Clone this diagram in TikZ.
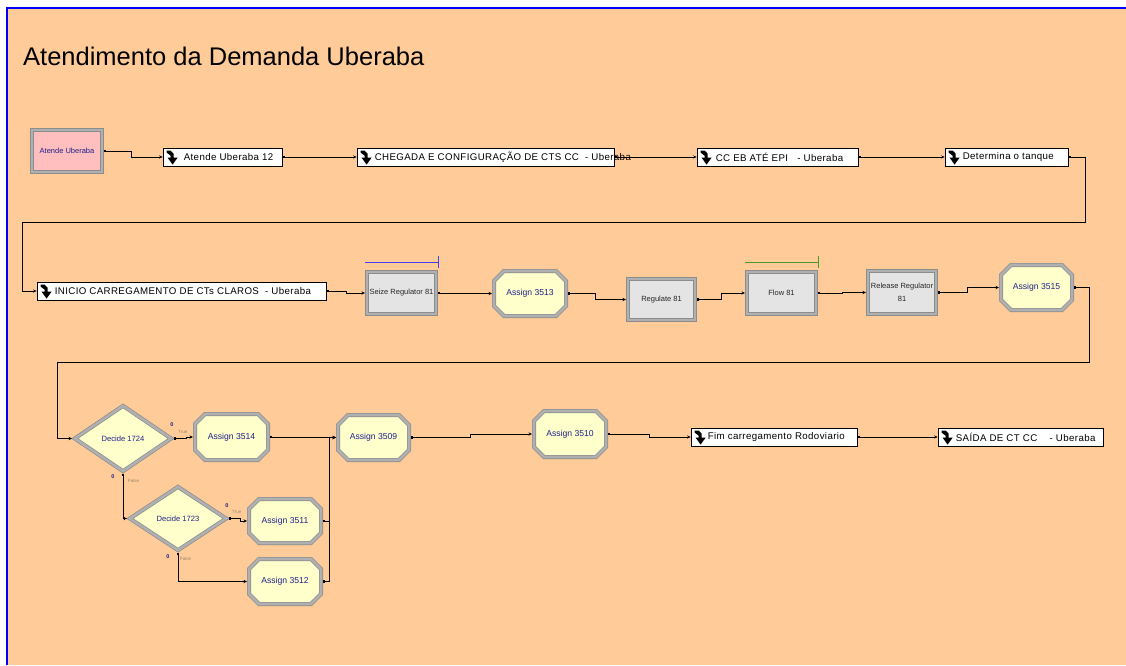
\documentclass[tikz,border=0pt]{standalone}
\usepackage{fontspec}
\setmainfont{Liberation Sans}
\newfontfamily\lblfont[LetterSpace=4]{Liberation Sans}
\usetikzlibrary{shapes.geometric,shapes.misc,arrows.meta,calc}
\definecolor{peach}{HTML}{FFCC99}
\definecolor{frameblue}{HTML}{0000FF}
\definecolor{modyellow}{HTML}{FFFFCC}
\definecolor{procgray}{HTML}{E4E4E4}
\definecolor{createpink}{HTML}{FFBFBF}
\definecolor{bevdark}{HTML}{8C8C8C}
\definecolor{bevlight}{HTML}{B0B0B0}
\definecolor{navytext}{HTML}{1F1F8A}
\definecolor{tftext}{HTML}{9A8468}
\definecolor{seizeblue}{HTML}{4040F0}
\definecolor{flowgreen}{HTML}{4C9A2A}

% bent-down arrow drawn at the left end of a station box
\newcommand\stnicon[1]{%
  \fill ($(#1.north west)+(4,3)$) -- ++(4,0) -- ++(3,3) -- ++(0,4) -- ++(4,0)
    -- ++(-5,7) -- ++(-5,-7) -- ++(3,0) -- ++(0,-2) -- ++(-4,-3) -- cycle;}

\begin{document}
\begin{tikzpicture}[x=1pt,y=-1pt,
  bevel/.style={draw=bevdark, double=bevlight, double distance=2.6pt,
    line width=0.7pt, outer sep=2pt},
  module/.style={bevel, fill=modyellow, chamfered rectangle,
    chamfered rectangle xsep=6pt, chamfered rectangle ysep=6pt,
    inner sep=0pt, text=navytext, font=\fontsize{8.6}{10}\selectfont},
  process/.style={bevel, fill=procgray, rectangle, inner sep=0pt,
    text=black!85, align=center, font=\fontsize{7.5}{12.5}\selectfont},
  decide/.style={bevel, fill=modyellow, diamond, inner sep=0pt,
    text=navytext, font=\fontsize{7.6}{9}\selectfont},
  station/.style={draw=black, line width=0.8pt, fill=white, rectangle,
    inner sep=0pt, minimum height=18pt},
  stntext/.style={anchor=west, inner sep=0pt,
    font=\lblfont\fontsize{9.7}{11}\selectfont},
  zero/.style={inner sep=0pt, text=navytext, font=\bfseries\fontsize{5.5}{6}\selectfont},
  tf/.style={anchor=west, inner sep=0pt, text=tftext, font=\fontsize{4.5}{5}\selectfont},
  conn/.style={line width=0.9pt, {Square[length=2pt,width=2.5pt]}-{Stealth[length=3.5pt,width=3.2pt]}}
]
\useasboundingbox (0,0) rectangle (1126,665);
\fill[white] (0,0) rectangle (1126,665);
\fill[peach] (7,8) rectangle (1126,665);
\draw[frameblue, line width=2pt] (7,665) -- (7,8) -- (1126,8);

\node[anchor=base west, inner sep=0pt, font=\fontsize{25.5}{30}\selectfont] (title) at (23,65) {Atendimento da Demanda Uberaba};

% first row
\node[process, fill=createpink, text=navytext, minimum width=70pt, minimum height=42pt] (create) at (67,151) {Atende Uberaba};
\node[station, minimum width=119pt] (s1) at (222.5,157) {};
\node[station, minimum width=257pt] (s2) at (485.5,157) {};
\node[station, minimum width=161pt] (s3) at (777.5,157) {};
\node[station, minimum width=123pt] (s4) at (1006.5,157) {};

% second row
\node[station, minimum width=289pt] (s5) at (181.5,291) {};
\node[process, minimum width=69pt, minimum height=42pt] (seize) at (401.5,293) {Seize Regulator 81};
\node[module, minimum width=72pt, minimum height=45pt] (as3513) at (530,293.5) {Assign 3513};
\node[process, minimum width=67pt, minimum height=41pt] (regulate) at (661.5,299.5) {Regulate 81};
\node[process, minimum width=69pt, minimum height=42pt] (flow) at (781.5,293) {Flow 81};
\node[process, minimum width=68pt, minimum height=43pt] (release) at (902,292.5) {Release Regulator\\81};
\node[module, minimum width=71pt, minimum height=45pt] (as3515) at (1036.5,287.5) {Assign 3515};

% third row
\node[decide, minimum width=98pt, minimum height=67pt] (dec1724) at (123,438.5) {Decide 1724};
\node[module, minimum width=73pt, minimum height=46pt] (as3514) at (231.5,437) {Assign 3514};
\node[module, minimum width=71pt, minimum height=45pt] (as3509) at (373.5,437.5) {Assign 3509};
\node[module, minimum width=72pt, minimum height=46pt] (as3510) at (570,434) {Assign 3510};
\node[station, minimum width=166pt] (s6) at (774,437) {};
\node[station, minimum width=165pt] (s7) at (1020.5,437) {};
\node[decide, minimum width=98pt, minimum height=65pt] (dec1723) at (178,518.5) {Decide 1723};
\node[module, minimum width=72pt, minimum height=44pt] (as3511) at (285,521) {Assign 3511};
\node[module, minimum width=72pt, minimum height=45pt] (as3512) at (285,581.5) {Assign 3512};

% station captions and icons
\node[stntext] (t1) at ([xshift=21pt]s1.west) {Atende Uberaba 12};
\node[stntext] (t2) at ([xshift=18pt]s2.west) {CHEGADA E CONFIGURAÇÃO DE CTS CC~~- Uberaba};
\node[stntext] (t3) at ([xshift=19pt]s3.west) {CC EB ATÉ EPI~~~- Uberaba};
\node[stntext] (t4) at ([xshift=18pt]s4.west) {Determina o tanque};
\node[stntext] (t5) at ([xshift=18pt]s5.west) {INICIO CARREGAMENTO DE CTs CLAROS~~- Uberaba};
\node[stntext] (t6) at ([xshift=17pt]s6.west) {Fim carregamento Rodoviario};
\node[stntext] (t7) at ([xshift=18pt]s7.west) {SAÍDA DE CT CC~~~~- Uberaba};
\foreach \s in {s1,s2,s3,s4,s5,s6,s7} {\stnicon{\s}}

% resource bars above seize and flow
\draw[seizeblue, line width=1pt] ($(seize.north west)+(0,-8)$) -- ($(seize.north east)+(0,-8)$);
\draw[seizeblue, line width=1pt] ($(seize.north east)+(0,-14)$) -- ($(seize.north east)+(0,-2)$);
\draw[flowgreen, line width=1pt] ($(flow.north west)+(0,-8)$) -- ($(flow.north east)+(0,-8)$);
\draw[flowgreen, line width=1pt] ($(flow.north east)+(0,-14)$) -- ($(flow.north east)+(0,-2)$);

% branch counters
\node[zero] (z1) at (172,425) {0};
\node[tf] (tr1) at (178,432) {True};
\node[zero] (z2) at (113,477) {0};
\node[tf] (fa1) at (128,481) {False};
\node[zero] (z3) at (227,506) {0};
\node[tf] (tr2) at (232,512) {True};
\node[zero] (z4) at (168,557) {0};
\node[tf] (fa2) at (180,559) {False};

% bends of the long return lines
\coordinate (w1) at (22,222);
\coordinate (w2) at (57,362);

% connectors
\draw[conn] (create.east) -- ++(27,0) |- (s1.west);
\draw[conn] (s1.east) -- (s2.west);
\draw[conn] (s2.east) -- (s3.west);
\draw[conn] (s3.east) -- (s4.west);
\draw[conn] (s4.east) -- ++(17,0) |- (w1) |- (s5.west);
\draw[conn] (s5.east) -- ++(20,0) |- (seize.west);
\draw[conn] (seize.east) -- ++(26,0) |- (as3513.west);
\draw[conn] (as3513.east) -- ++(27,0) |- (regulate.west);
\draw[conn] (regulate.east) -- ++(24,0) |- (flow.west);
\draw[conn] (flow.east) -- ++(24,0) |- (release.west);
\draw[conn] (release.east) -- ++(29,0) |- (as3515.west);
\draw[conn] (as3515.east) -- ++(15,0) |- (w2) |- (dec1724.west);
\draw[conn] (dec1724.east) -- ++(12,0) |- (as3514.west);
\draw[conn] (dec1724.south) |- (dec1723.west);
\draw[conn] (dec1723.east) -- ++(11,0) |- (as3511.west);
\draw[conn] (dec1723.south) |- (as3512.west);
\draw[conn] (as3514.east) -- ++(32,0) |- (as3509.west);
\draw[conn] (as3511.east) -- ++(6,0) |- (as3509.west);
\draw[conn] (as3512.east) -- ++(6,0) |- (as3509.west);
\draw[conn] (as3509.east) -- ++(59,0) |- (as3510.west);
\draw[conn] (as3510.east) -- ++(41,0) |- (s6.west);
\draw[conn] (s6.east) -- (s7.west);
\end{tikzpicture}
\end{document}
